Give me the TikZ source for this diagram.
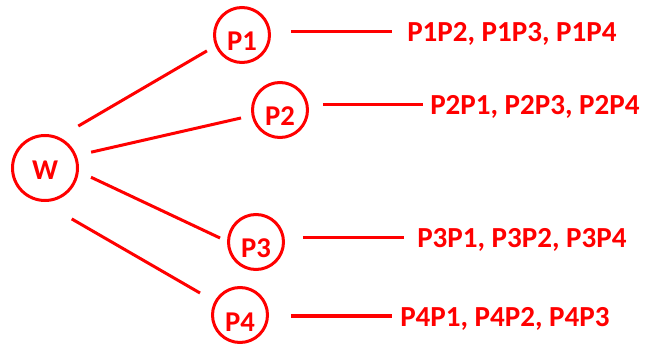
\documentclass[tikz,border=0pt]{standalone}
\usepackage{fontspec}
\setmainfont{Carlito}
\usepackage{xcolor}
\usetikzlibrary{positioning}

\begin{document}
\begin{tikzpicture}[x=0.75pt, y=-0.75pt,
    link_line/.style={draw=red, line width=2.25pt},
    w_circ/.style={circle, draw=red, line width=2.25pt, minimum size=48.75pt, inner sep=0pt, outer sep=0pt, text=red, font=\fontsize{21.5}{25}\selectfont\bfseries, text height=18pt, text depth=0pt},
    p_circ/.style={w_circ, minimum size=41.25pt, text height=24pt},
    pair_text/.style={anchor=base west, inner sep=0pt, text=red, font=\fontsize{21.8}{25}\selectfont\bfseries, text height=18pt, text depth=3pt}
]
    \useasboundingbox (0,0) rectangle (646,345);

    \node[w_circ] (W) at (45,168) {W};
    \node[p_circ] (P1) at (242,35) {P1};
    \node[p_circ] (P2) at (280,110) {P2};
    \node[p_circ] (P3) at (256,242) {P3};
    \node[p_circ] (P4) at (240,315) {P4};

    \node[pair_text] (T1) at (407,42) {P1P2, P1P3, P1P4};
    \node[pair_text] (T2) at (430,115) {P2P1, P2P3, P2P4};
    \node[pair_text] (T3) at (417,248) {P3P1, P3P2, P3P4};
    \node[pair_text] (T4) at (400,326) {P4P1, P4P2, P4P3};

    % W to the four P's
    \draw[link_line, shorten <=17.9pt, shorten >=8.3pt] (W.67.5) -- (P1.202);
    \draw[link_line, shorten <=12.3pt, shorten >=9.2pt] (W.22.4) -- (P2.191);
    \draw[link_line, shorten <=11.3pt, shorten >=7pt] (W.355.4) -- (P3.180);
    \draw[link_line, shorten <=28.5pt, shorten >=13.6pt] (W.259.6) -- (P4.152);

    % P's to their pairs
    \draw[link_line, shorten <=16.1pt, shorten >=11.25pt] (T1.west -| P1.east) -- (T1.west);
    \draw[link_line, shorten <=11.6pt, shorten >=5.25pt] (T2.west -| P2.east) -- (T2.west);
    \draw[link_line, shorten <=14.6pt, shorten >=9.75pt] (T3.west -| P3.east) -- (T3.west);
    \draw[link_line, shorten <=17.6pt, shorten >=6pt] (T4.west -| P4.east) -- (T4.west);
\end{tikzpicture}
\end{document}
